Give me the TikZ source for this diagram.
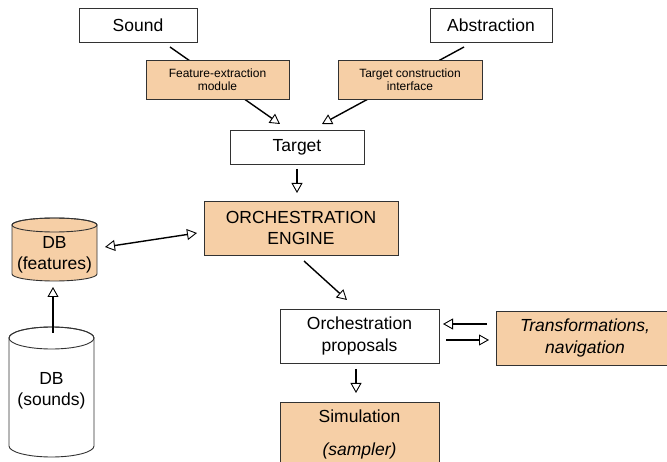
\documentclass[tikz,border=0pt]{standalone}
\usepackage{fontspec}
\setmainfont{Liberation Sans}
\usetikzlibrary{arrows.meta}
\definecolor{peach}{RGB}{246,207,166}
\definecolor{edge}{RGB}{50,50,50}
\tikzset{
  box/.style={draw=edge, line width=0.9pt, fill=white, inner sep=0pt, align=center,
    font=\fontsize{17.5}{21.5}\selectfont},
  pbox/.style={box, fill=peach},
  sbox/.style={draw=edge, line width=0.9pt, fill=peach, inner sep=0pt, align=center,
    font=\fontsize{12}{13.5}\selectfont},
  conn/.style={line width=1.4pt, -{Triangle[open,length=10pt,width=11pt,line width=0.9pt]}},
  dconn/.style={line width=1.4pt, {Triangle[open,length=10pt,width=11pt,line width=0.9pt]}-{Triangle[open,length=10pt,width=11pt,line width=0.9pt]}},
  cyltext/.style={inner sep=0pt, align=center, font=\fontsize{17.5}{21.5}\selectfont}
}
\begin{document}
\begin{tikzpicture}[x=1pt,y=1pt]
\useasboundingbox (0,0) rectangle (667,-462);
% connectors passing behind the small boxes
\coordinate (s1) at (170,-47);
\coordinate (s2) at (280,-124);
\coordinate (a1) at (464,-47);
\coordinate (a2) at (322,-124);
\draw[conn] (s1) -- (s2);
\draw[conn] (a1) -- (a2);
% boxes
\node[box, minimum width=118pt, minimum height=34pt] (sound) at (138,-25) {Sound};
\node[box, minimum width=122pt, minimum height=34pt] (abstr) at (491,-25) {Abstraction};
\node[sbox, minimum width=143pt, minimum height=39pt] (feat) at (217.5,-79.5) {Feature-extraction\\module};
\node[sbox, minimum width=144pt, minimum height=39pt] (tci) at (410,-79.5) {Target construction\\interface};
\node[box, minimum width=134pt, minimum height=34pt] (target) at (297,-147) {Target};
\node[pbox, minimum width=194pt, minimum height=54pt] (engine) at (301,-228) {ORCHESTRATION\\ENGINE};
\node[box, minimum width=159pt, minimum height=54pt] (prop) at (359.5,-336) {Orchestration\\proposals};
\node[pbox, minimum width=178pt, minimum height=54pt] (trans) at (585,-338) {\itshape Transformations,\\\itshape navigation};
\node[pbox, minimum width=159pt, minimum height=80pt, font=\fontsize{17.5}{33}\selectfont] (sim) at (359.5,-442) {};
\node[inner sep=0pt, align=center, font=\fontsize{17.5}{33}\selectfont, anchor=center] (simtext) at (359.5,-434.5) {Simulation\\\itshape (sampler)};
% cylinders
\filldraw[draw=edge, line width=0.9pt, fill=peach] (12,-225) -- (12,-274)
  arc[start angle=180,end angle=360,x radius=42.5,y radius=7] -- (97,-225)
  arc[start angle=0,end angle=180,x radius=42.5,y radius=7] -- cycle;
\draw[edge, line width=0.9pt] (54.5,-225) ellipse[x radius=42.5,y radius=7];
\node[cyltext] (dbf) at (54.5,-255) {DB\\(features)};
\filldraw[draw=edge, line width=0.9pt, fill=white] (9,-338) -- (9,-446)
  arc[start angle=180,end angle=360,x radius=42.5,y radius=11] -- (94,-338)
  arc[start angle=0,end angle=180,x radius=42.5,y radius=11] -- cycle;
\draw[edge, line width=0.9pt] (51.5,-338) ellipse[x radius=42.5,y radius=11];
\node[cyltext] (dbs) at (51.5,-391) {DB\\(sounds)};
% remaining connectors
\coordinate (t1) at (297,-169);
\coordinate (t2) at (297,-193);
\draw[conn] (t1) -- (t2);
\coordinate (d1) at (105,-247);
\coordinate (d2) at (197,-233);
\draw[dconn] (d1) -- (d2);
\coordinate (u1) at (53,-333);
\coordinate (u2) at (53,-287);
\draw[conn] (u1) -- (u2);
\coordinate (e1) at (304,-261);
\coordinate (e2) at (347,-300);
\draw[conn] (e1) -- (e2);
\coordinate (r1) at (487,-324);
\coordinate (r2) at (443,-324);
\draw[conn] (r1) -- (r2);
\coordinate (q1) at (446,-340);
\coordinate (q2) at (489,-340);
\draw[conn] (q1) -- (q2);
\coordinate (p1) at (356,-369);
\coordinate (p2) at (356,-393);
\draw[conn] (p1) -- (p2);
\end{tikzpicture}
\end{document}
